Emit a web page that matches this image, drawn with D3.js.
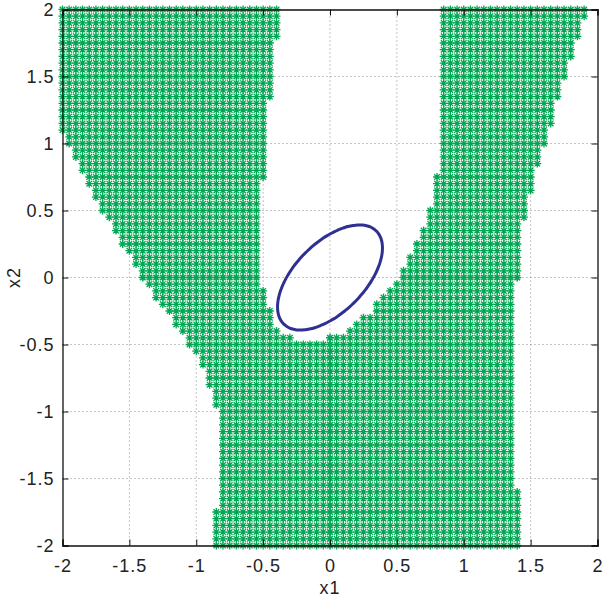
<!DOCTYPE html>
<html>
<head>
<meta charset="utf-8">
<script src="https://cdn.jsdelivr.net/npm/d3@7"></script>
<style>
  html, body { margin: 0; padding: 0; background: #fff; }
  text { font-family: "Liberation Sans", Arial, sans-serif; fill: #222; }
</style>
</head>
<body>
<svg id="chart" width="604" height="603"></svg>
<script>
// axis ticks
const xTicks = [-2, -1.5, -1, -0.5, 0, 0.5, 1, 1.5, 2];
const yTicks = [-2, -1.5, -1, -0.5, 0, 0.5, 1, 1.5, 2];

// scan grid spacing of the sampled points
const gridStep = 0.05;

// region edges, per band of rows: [yFrom, yTo, x]
// outer left edge of the green region
const leftOuter = [
  [2.00, 1.10, -2.00], [1.05, 1.00, -1.95], [0.95, 0.90, -1.90], [0.85, 0.80, -1.85],
  [0.75, 0.70, -1.80], [0.65, 0.60, -1.75], [0.55, 0.50, -1.70], [0.45, 0.45, -1.65],
  [0.40, 0.35, -1.60], [0.30, 0.25, -1.55], [0.20, 0.20, -1.50], [0.15, 0.10, -1.45],
  [0.05, 0.00, -1.40], [-0.05, -0.05, -1.35], [-0.10, -0.15, -1.30], [-0.20, -0.20, -1.25],
  [-0.25, -0.25, -1.20], [-0.30, -0.35, -1.15], [-0.40, -0.40, -1.10], [-0.45, -0.50, -1.05],
  [-0.55, -0.55, -1.00], [-0.60, -0.65, -0.95], [-0.70, -0.80, -0.90], [-0.85, -0.95, -0.85],
  [-1.00, -1.70, -0.80], [-1.75, -2.00, -0.85]
];
// last point of the left branch (left side of the empty gap)
const gapLeft = [
  [2.00, 1.80, -0.40], [1.75, 1.35, -0.45], [1.30, 0.75, -0.50], [0.70, -0.05, -0.55],
  [-0.10, -0.20, -0.50], [-0.25, -0.35, -0.45], [-0.40, -0.40, -0.40], [-0.45, -0.45, -0.30]
];
// first point of the right branch (right side of the empty gap)
const gapRight = [
  [2.00, 0.80, 0.85], [0.75, 0.55, 0.80], [0.50, 0.40, 0.75], [0.35, 0.30, 0.70],
  [0.25, 0.20, 0.65], [0.15, 0.10, 0.60], [0.05, 0.00, 0.55], [-0.05, -0.05, 0.50],
  [-0.10, -0.10, 0.45], [-0.15, -0.15, 0.40], [-0.20, -0.25, 0.35], [-0.30, -0.30, 0.25],
  [-0.35, -0.35, 0.20], [-0.40, -0.40, 0.15], [-0.45, -0.45, 0.00]
];
// outer right edge of the green region
const rightOuter = [
  [2.00, 1.95, 1.90], [1.90, 1.80, 1.85], [1.75, 1.65, 1.80], [1.60, 1.50, 1.75],
  [1.45, 1.35, 1.70], [1.30, 1.15, 1.65], [1.10, 1.00, 1.60], [0.95, 0.85, 1.55],
  [0.80, 0.65, 1.50], [0.60, 0.45, 1.45], [0.40, 0.00, 1.40], [-0.05, -1.55, 1.35],
  [-1.60, -2.00, 1.40]
];

// ellipse: centre, semi-axes, tilt in degrees
const ellipseCenter = [0, 0];
const ellipseAxes = [0.49, 0.26];
const ellipseAngle = 45;

const svg = d3.select("#chart");
const x = d3.scaleLinear().domain([-2, 2]).range([62.5, 597.5]);
const y = d3.scaleLinear().domain([-2, 2]).range([545.5, 9.5]);

function edgeAt(bands, yv) {
  const b = bands.find(d => yv <= d[0] + 1e-6 && yv >= d[1] - 1e-6);
  return b ? b[2] : null;
}

// build the sampled points from the edges
const points = [];
const rows = d3.range(-40, 41).map(i => i * gridStep);
rows.forEach(yv => {
  const l = edgeAt(leftOuter, yv), r = edgeAt(rightOuter, yv);
  const a = edgeAt(gapLeft, yv), b = edgeAt(gapRight, yv);
  const n0 = Math.round(l / gridStep), n1 = Math.round(r / gridStep);
  for (let k = n0; k <= n1; k++) {
    const xv = k * gridStep;
    if (a !== null && xv > a + 1e-6 && xv < b - 1e-6) continue;
    points.push([xv, yv]);
  }
});

// grid
const grid = svg.append("g").attr("stroke", "#8a8a8a").attr("stroke-width", 1)
  .attr("stroke-dasharray", "1,3");
grid.selectAll(".gx").data(xTicks.slice(1, -1)).enter().append("line")
  .attr("x1", d => x(d)).attr("x2", d => x(d)).attr("y1", y(-2)).attr("y2", y(2));
grid.selectAll(".gy").data(yTicks.slice(1, -1)).enter().append("line")
  .attr("y1", d => y(d)).attr("y2", d => y(d)).attr("x1", x(-2)).attr("x2", x(2));

// asterisk markers
const star = "M-4,0H4M0,-4V4M-2.8,-2.8L2.8,2.8M-2.8,2.8L2.8,-2.8";
svg.append("g")
  .selectAll("path")
  .data(points)
  .enter()
  .append("path")
  .attr("d", star)
  .attr("transform", d => `translate(${x(d[0])},${y(d[1])})`)
  .attr("fill", "none")
  .attr("stroke", "#00a651")
  .attr("stroke-width", d => (Math.abs(d[0]) < 1e-6 || Math.abs(d[1]) < 1e-6) ? 1.6 : 1.3);

// ellipse
const rad = ellipseAngle * Math.PI / 180;
const ell = d3.range(0, 361, 3).map(t => {
  const tt = t * Math.PI / 180;
  const u = ellipseAxes[0] * Math.cos(tt), v = ellipseAxes[1] * Math.sin(tt);
  return [ellipseCenter[0] + u * Math.cos(rad) - v * Math.sin(rad),
          ellipseCenter[1] + u * Math.sin(rad) + v * Math.cos(rad)];
});
svg.append("path")
  .datum(ell)
  .attr("d", d3.line().x(d => x(d[0])).y(d => y(d[1])).curve(d3.curveCardinalClosed))
  .attr("fill", "none")
  .attr("stroke", "#2e3192")
  .attr("stroke-width", 3);

// axes box with inward ticks
const ax = svg.append("g");
ax.append("g").attr("transform", `translate(0,${y(-2)})`)
  .call(d3.axisBottom(x).tickValues(xTicks).tickSize(-6).tickPadding(14).tickFormat(d3.format("")));
ax.append("g").attr("transform", `translate(${x(-2)},0)`)
  .call(d3.axisLeft(y).tickValues(yTicks).tickSize(-6).tickPadding(8).tickFormat(d3.format("")));
ax.append("g").attr("transform", `translate(0,${y(2)})`)
  .call(d3.axisTop(x).tickValues(xTicks).tickSize(-6).tickFormat(""));
ax.append("g").attr("transform", `translate(${x(2)},0)`)
  .call(d3.axisRight(y).tickValues(yTicks).tickSize(-6).tickFormat(""));
ax.selectAll(".domain").attr("stroke", "#111").attr("stroke-width", 1.3);
ax.selectAll(".tick line").attr("stroke", "#111");
ax.selectAll(".tick text").attr("font-size", 18).attr("letter-spacing", 1).style("fill", "#222")
  .text(function() { return this.textContent.replace("\u2212", "-"); });

svg.append("text").attr("x", x(0)).attr("y", 594).attr("text-anchor", "middle")
  .attr("font-size", 18).attr("letter-spacing", 1).text("x1");
svg.append("text").attr("transform", `translate(20,${y(0)}) rotate(-90)`)
  .attr("text-anchor", "middle").attr("font-size", 18).attr("letter-spacing", 1).text("x2");
</script>
</body>
</html>
